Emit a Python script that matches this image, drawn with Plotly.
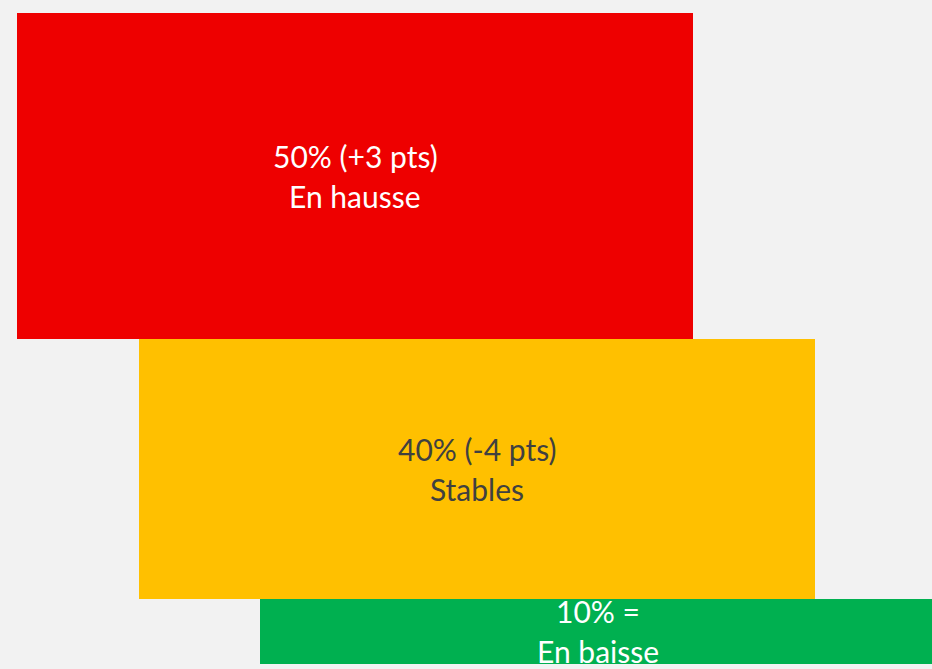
import plotly.graph_objects as go

# Share of respondents per trend, with the change versus the previous wave
categories = ["En hausse", "Stables", "En baisse"]
shares = [50, 40, 10]
changes = ["(+3 pts)", "(-4 pts)", "="]
colors = ["#EE0000", "#FFC000", "#00B050"]
text_colors = ["#FFFFFF", "#404040", "#FFFFFF"]

STEP = 121.5      # horizontal offset between consecutive bands
BAND_LEN = 676    # horizontal length of every band
FONT = "Lato"
FONT_SIZE = 30

# Vertical centre of each band: cumulative share stacked top to bottom
centers = []
running = 0
for s in shares:
    centers.append(running + s / 2)
    running += s

bases = [i * STEP for i in range(len(shares))]

fig = go.Figure()
fig.add_trace(go.Bar(
    orientation="h",
    y=centers,
    x=[BAND_LEN] * len(shares),
    base=bases,
    width=shares,
    marker=dict(color=colors, line=dict(width=0)),
    hoverinfo="skip",
    showlegend=False,
))

annotations = []
for cat, s, ch, b, c, tc in zip(categories, shares, changes, bases, centers, text_colors):
    xc = b + BAND_LEN / 2
    for line, shift in ((f"{s}% {ch}", 20), (cat, -20)):
        annotations.append(dict(
            x=xc, y=c, xref="x", yref="y", text=line, showarrow=False,
            yshift=shift, xanchor="center", yanchor="middle",
            font=dict(family=FONT, size=FONT_SIZE, color=tc),
        ))

fig.update_layout(
    width=932, height=669,
    margin=dict(l=17, r=0, t=13, b=5),
    paper_bgcolor="#F2F2F2",
    plot_bgcolor="#F2F2F2",
    bargap=0,
    annotations=annotations,
    xaxis=dict(range=[0, 915], visible=False, fixedrange=True),
    yaxis=dict(range=[100, 0], visible=False, fixedrange=True),
)

fig.write_html("out.html")
